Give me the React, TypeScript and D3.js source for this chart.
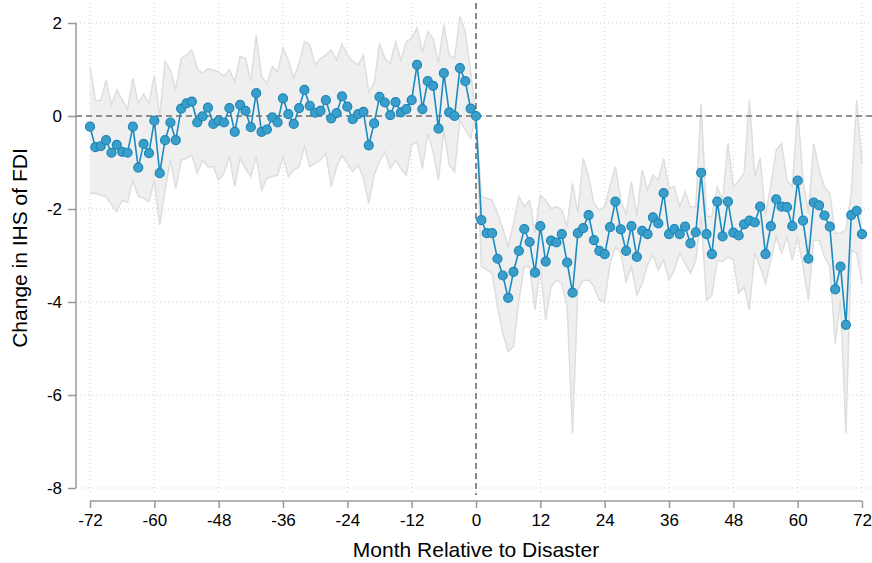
import { useRef, useEffect } from "react";
import * as d3 from "d3";

// point estimates, months -72 .. 72
const estimates = [
  -0.23, -0.67, -0.65, -0.52, -0.79, -0.62, -0.77, -0.79, -0.23, -1.11, -0.6, -0.8,
  -0.1, -1.23, -0.52, -0.14, -0.52, 0.16, 0.27, 0.31, -0.14, -0.01, 0.18, -0.17,
  -0.1, -0.14, 0.17, -0.34, 0.24, 0.11, -0.24, 0.49, -0.34, -0.29, -0.03, -0.14,
  0.38, 0.04, -0.17, 0.17, 0.56, 0.22, 0.07, 0.11, 0.34, -0.05, 0.06, 0.42,
  0.2, -0.07, 0.04, 0.09, -0.63, -0.16, 0.41, 0.29, 0.02, 0.3, 0.08, 0.15,
  0.34, 1.1, 0.15, 0.75, 0.65, -0.27, 0.92, 0.08, 0.0, 1.03, 0.75, 0.16,
  0.0,
  -2.24, -2.52, -2.52, -3.07, -3.43, -3.91, -3.35, -2.9, -2.43, -2.71, -3.37, -2.37,
  -3.13, -2.68, -2.72, -2.54, -3.15, -3.8, -2.52, -2.41, -2.13, -2.67, -2.9, -2.97,
  -2.39, -1.84, -2.44, -2.9, -2.37, -3.03, -2.47, -2.54, -2.18, -2.31, -1.66, -2.54,
  -2.43, -2.54, -2.38, -2.74, -2.5, -1.22, -2.54, -2.97, -1.84, -2.59, -1.84, -2.51,
  -2.57, -2.33, -2.25, -2.29, -1.95, -2.97, -2.37, -1.79, -1.95, -1.96, -2.37, -1.39,
  -2.25, -3.07, -1.86, -1.92, -2.14, -2.38, -3.73, -3.24, -4.49, -2.13, -2.04, -2.54,
];

const upper = [
  1.06, 0.34, 0.33, 0.77, 0.24, 0.56, 0.35, 0.14, 0.81, 0.27, 0.47, 0.27,
  0.88, -0.01, 1.17, 0.99, 0.56, 1.24, 1.31, 1.42, 1.02, 0.92, 1.02, 0.99,
  0.95, 0.85, 1.0, 0.74, 1.28, 1.24, 0.74, 1.74, 0.85, 0.7, 1.06, 0.95,
  1.46, 1.2, 0.81, 1.13, 1.6, 1.53, 1.1, 1.24, 1.31, 1.42, 1.2, 1.55,
  1.31, 1.17, 1.1, 1.31, 0.52, 0.7, 1.56, 1.24, 1.13, 1.6, 1.2, 1.6,
  1.67, 1.89, 1.38, 1.81, 1.67, 1.13, 1.96, 1.31, 1.24, 2.14, 1.81, 0.95,
  0.0,
  -1.73, -1.77, -1.81, -2.09, -2.42, -2.81, -2.31, -1.73, -1.95, -1.81, -2.52, -1.7,
  -1.81, -1.99, -1.95, -2.02, -2.38, -1.45, -2.09, -0.91, -1.3, -1.88, -2.02, -1.95,
  -1.5, -1.09, -1.81, -2.13, -1.41, -2.16, -1.16, -1.59, -1.27, -1.38, -0.91, -1.56,
  -1.52, -1.95, -1.63, -1.95, -1.95, 0.27, -2.16, -2.16, -1.52, -1.81, -0.59, -1.52,
  -1.4, -1.23, 0.34, -1.3, -0.91, -2.16, -1.48, -0.73, -0.59, -1.38, -1.52, 0.13,
  -1.38, -2.09, -0.59, -1.16, -1.52, -1.66, -2.52, -2.52, -2.45, -1.66, 0.34, -1.02,
];

const lower = [
  -1.66, -1.66, -1.7, -1.73, -1.91, -2.05, -1.81, -1.86, -1.38, -1.73, -1.77, -1.84,
  -1.38, -2.35, -1.6, -0.95, -1.56, -0.95, -0.91, -0.84, -1.23, -0.95, -1.09, -1.09,
  -1.38, -1.23, -0.87, -1.52, -0.91, -1.13, -1.3, -0.87, -1.59, -1.34, -1.3, -1.27,
  -0.87, -1.3, -1.16, -1.09, -0.65, -1.09, -1.02, -0.95, -0.8, -1.52, -1.09, -0.85,
  -1.02, -1.2, -1.05, -1.34, -1.88, -1.27, -0.98, -0.77, -1.13, -0.95, -1.13, -1.27,
  -0.62, -0.55, -1.13, -0.37, -0.77, -1.38, -0.3, -1.05, -1.2, -0.09, -0.3, -0.48,
  0.0,
  -3.24, -3.31, -3.38, -4.1, -4.67, -5.07, -4.96, -3.96, -3.24, -3.24, -4.17, -3.24,
  -4.39, -3.67, -3.53, -3.6, -4.1, -6.82, -3.74, -3.53, -3.53, -3.67, -3.96, -3.99,
  -3.17, -2.81, -2.95, -3.56, -3.24, -3.85, -3.6, -3.2, -2.99, -3.31, -3.1, -3.53,
  -3.31, -2.95, -3.17, -3.38, -3.1, -2.16, -3.96, -3.85, -3.1, -3.13, -3.03, -3.1,
  -3.81, -3.67, -4.17, -2.95, -3.24, -3.6, -3.1, -2.6, -2.95, -2.6, -3.1, -2.6,
  -3.24, -3.96, -2.67, -2.67, -3.03, -3.24, -4.89, -3.96, -6.82, -2.88, -2.95, -3.6,
];

const xTicks = [-72, -60, -48, -36, -24, -12, 0, 12, 24, 36, 48, 60, 72];
const yTicks = [2, 0, -2, -4, -6, -8];

export default function App() {
  const ref = useRef<SVGSVGElement>(null);

  useEffect(() => {
    const svg = d3.select(ref.current);
    svg.selectAll("*").remove();

    const width = 872;
    const font = "'Liberation Sans', Arial, Helvetica, sans-serif";

    const data = estimates.map((v, i) => ({
      m: i - 72,
      v,
      lo: lower[i],
      hi: upper[i],
    }));

    const x = d3.scaleLinear().domain([-72, 72]).range([90, 862]);
    const y = d3.scaleLinear().domain([-8, 2]).range([488, 23]);

    const plotLeft = 76;
    const plotRight = width;
    const plotTop = 3;
    const plotBottom = 495;

    // --- grid lines (dotted) ---
    const grid = svg.append("g");
    grid
      .selectAll("line.gx")
      .data(xTicks)
      .join("line")
      .attr("x1", (d) => x(d))
      .attr("x2", (d) => x(d))
      .attr("y1", plotTop)
      .attr("y2", plotBottom)
      .attr("stroke", "#cfcfcf")
      .attr("stroke-width", 1)
      .attr("stroke-dasharray", "1,3");
    grid
      .selectAll("line.gy")
      .data(yTicks)
      .join("line")
      .attr("x1", plotLeft)
      .attr("x2", plotRight)
      .attr("y1", (d) => y(d))
      .attr("y2", (d) => y(d))
      .attr("stroke", "#cfcfcf")
      .attr("stroke-width", 1)
      .attr("stroke-dasharray", "1,3");

    // --- confidence band ---
    const area = d3
      .area<any>()
      .x((d) => x(d.m))
      .y0((d) => y(d.lo))
      .y1((d) => y(d.hi));
    svg
      .append("path")
      .datum(data)
      .attr("d", area)
      .attr("fill", "#ededed")
      .attr("fill-opacity", 0.9)
      .attr("stroke", "none");
    ["hi", "lo"].forEach((k) => {
      svg
        .append("path")
        .datum(data)
        .attr(
          "d",
          d3
            .line<any>()
            .x((d) => x(d.m))
            .y((d) => y(d[k]))
        )
        .attr("fill", "none")
        .attr("stroke", "#dedede")
        .attr("stroke-width", 1.5);
    });

    // --- reference lines ---
    svg
      .append("line")
      .attr("x1", plotLeft)
      .attr("x2", plotRight)
      .attr("y1", y(0))
      .attr("y2", y(0))
      .attr("stroke", "#6e6e6e")
      .attr("stroke-width", 1.6)
      .attr("stroke-dasharray", "6,4");
    svg
      .append("line")
      .attr("x1", x(0))
      .attr("x2", x(0))
      .attr("y1", plotTop)
      .attr("y2", plotBottom)
      .attr("stroke", "#6e6e6e")
      .attr("stroke-width", 1.6)
      .attr("stroke-dasharray", "6,4");

    // --- estimate line + markers ---
    svg
      .append("path")
      .datum(data)
      .attr(
        "d",
        d3
          .line<any>()
          .x((d) => x(d.m))
          .y((d) => y(d.v))
      )
      .attr("fill", "none")
      .attr("stroke", "#1a8bbf")
      .attr("stroke-width", 1.6);
    svg
      .append("g")
      .selectAll("circle")
      .data(data)
      .join("circle")
      .attr("cx", (d) => x(d.m))
      .attr("cy", (d) => y(d.v))
      .attr("r", 4.5)
      .attr("fill", "#3a9ecb")
      .attr("stroke", "#1c86b6")
      .attr("stroke-width", 1.2);

    // --- axes ---
    const axisColor = "#9a9a9a";
    const fmt = (d: any) => String(d);
    const xAxis = svg
      .append("g")
      .attr("transform", `translate(0,501)`)
      .call(d3.axisBottom(x).tickValues(xTicks).tickSize(7).tickPadding(6).tickFormat(fmt));
    xAxis.select(".domain").attr("stroke", axisColor).attr("stroke-width", 1.5).attr("d", `M${x(-72)},0H${x(72)}`);
    xAxis.selectAll(".tick line").attr("stroke", axisColor).attr("stroke-width", 1.5);
    xAxis
      .selectAll(".tick text")
      .attr("fill", "#000")
      .style("font-family", font)
      .style("font-size", "17px");

    const yAxis = svg
      .append("g")
      .attr("transform", `translate(76,0)`)
      .call(d3.axisLeft(y).tickValues(yTicks).tickSize(8).tickPadding(6).tickFormat(fmt));
    yAxis.select(".domain").attr("stroke", axisColor).attr("stroke-width", 1.5).attr("d", `M0,${y(2)}V${y(-8)}`);
    yAxis.selectAll(".tick line").attr("stroke", axisColor).attr("stroke-width", 1.5);
    yAxis
      .selectAll(".tick text")
      .attr("fill", "#000")
      .style("font-family", font)
      .style("font-size", "17px");

    // --- titles ---
    svg
      .append("text")
      .attr("x", 476)
      .attr("y", 557)
      .attr("text-anchor", "middle")
      .style("font-family", font)
      .style("font-size", "21px")
      .attr("fill", "#000")
      .text("Month Relative to Disaster");
    svg
      .append("text")
      .attr("transform", `translate(27,248) rotate(-90)`)
      .attr("text-anchor", "middle")
      .style("font-family", font)
      .style("font-size", "21px")
      .attr("fill", "#000")
      .text("Change in IHS of FDI");
  }, []);

  return (
    <svg
      ref={ref}
      width={872}
      height={563}
      style={{ position: "absolute", left: 0, top: 0, background: "#fff" }}
    ></svg>
  );
}
